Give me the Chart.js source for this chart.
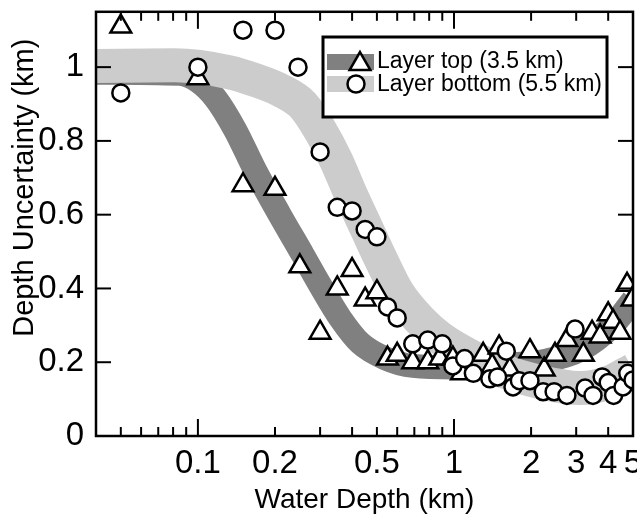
<!DOCTYPE html>
<html>
<head>
<meta charset="utf-8">
<script src="https://cdn.jsdelivr.net/npm/chart.js@4.4.0/dist/chart.umd.min.js"></script>
<style>
  html, body { margin: 0; padding: 0; background: #fff; overflow: hidden; }
  #wrap { width: 637px; height: 521px; overflow: hidden; position: relative; }
  #myChart { position: absolute; left: 0; top: -20px; }
</style>
</head>
<body>
<div id="wrap"><canvas id="myChart" width="657" height="541"></canvas></div>
<script>
// smoothed trends (band centre lines)
const topBandX = [0.04, 0.085, 0.1, 0.117, 0.14, 0.167, 0.209, 0.257, 0.3, 0.359, 0.43, 0.538, 0.692, 1, 1.51, 2.31, 3.11, 4.18, 5]
const topBandY = [0.985, 0.982, 0.962, 0.916, 0.829, 0.721, 0.599, 0.491, 0.409, 0.32, 0.252, 0.211, 0.19, 0.186, 0.192, 0.205, 0.233, 0.301, 0.369]
const bottomBandX = [0.04, 0.081, 0.133, 0.167, 0.209, 0.257, 0.3, 0.346, 0.393, 0.453, 0.524, 0.604, 0.737, 0.882, 1.155, 1.51, 2.17, 3.11, 4.06, 5]
const bottomBandY = [1.003, 1.005, 0.986, 0.965, 0.938, 0.897, 0.829, 0.748, 0.659, 0.566, 0.472, 0.388, 0.314, 0.266, 0.217, 0.179, 0.146, 0.13, 0.146, 0.179]

// Layer top (3.5 km) - triangles
const topX = [0.05, 0.1, 0.15, 0.2, 0.25, 0.3, 0.35, 0.4, 0.45, 0.5, 0.55, 0.6, 0.69, 0.79, 0.88, 0.99, 1.07, 1.3, 1.41, 1.5, 1.65, 1.98, 2.25, 2.48, 2.76, 3.2, 3.46, 3.72, 4.0, 4.18, 4.45, 4.74, 4.96]
const topY = [1.11, 0.97, 0.68, 0.67, 0.46, 0.28, 0.40, 0.45, 0.37, 0.39, 0.21, 0.22, 0.20, 0.20, 0.21, 0.21, 0.17, 0.22, 0.19, 0.24, 0.18, 0.23, 0.18, 0.22, 0.26, 0.22, 0.28, 0.27, 0.33, 0.31, 0.28, 0.41, 0.37]

// Layer bottom (5.5 km) - circles
const bottomX = [0.05, 0.1, 0.15, 0.2, 0.246, 0.3, 0.35, 0.4, 0.45, 0.5, 0.55, 0.6, 0.69, 0.79, 0.9, 0.99, 1.1, 1.19, 1.38, 1.48, 1.6, 1.7, 1.8, 1.98, 2.23, 2.46, 2.76, 2.97, 3.25, 3.49, 3.79, 4.0, 4.2, 4.57, 4.77, 5.0]
const bottomY = [0.93, 1.0, 1.10, 1.10, 1.0, 0.77, 0.62, 0.61, 0.56, 0.54, 0.35, 0.32, 0.25, 0.26, 0.25, 0.19, 0.21, 0.17, 0.155, 0.16, 0.23, 0.133, 0.15, 0.15, 0.12, 0.12, 0.11, 0.29, 0.13, 0.11, 0.16, 0.145, 0.11, 0.133, 0.17, 0.152]

const xTickLabels = [0.1, 0.2, 0.5, 1, 2, 3, 4, 5]
const xMajorTicks = [0.1, 1]
const xMinorTicks = [0.05, 0.06, 0.07, 0.08, 0.09, 0.2, 0.3, 0.4, 0.5, 0.6, 0.7, 0.8, 0.9, 2, 3, 4, 5]
const yTicks = [0, 0.2, 0.4, 0.6, 0.8, 1]
const yTickLabels = ["0", "0.2", "0.4", "0.6", "0.8", "1"]

const FONT = "'Liberation Sans', Arial, Helvetica, sans-serif"
const TICKFONT = "'Liberation Sans Narrow', 'Arial Narrow', 'Liberation Sans', sans-serif"
const SHIFT = 20   // canvas sits 20px above the page top

function xy(xs, ys) {
  return xs.map((v, i) => ({ x: v, y: ys[i] }))
}

function line(ctx, x1, y1, x2, y2) {
  ctx.beginPath()
  ctx.moveTo(x1, y1)
  ctx.lineTo(x2, y2)
  ctx.stroke()
}

// frame, inward ticks and the legend box
const frameLegend = {
  id: "frameLegend",
  afterDraw(chart) {
    const ctx = chart.ctx
    const a = chart.chartArea
    const x = chart.scales.x
    const y = chart.scales.y
    ctx.save()
    ctx.strokeStyle = "#000"
    ctx.lineWidth = 2
    xMinorTicks.forEach(v => {
      const px = x.getPixelForValue(v)
      line(ctx, px, a.bottom, px, a.bottom - 9)
      line(ctx, px, a.top, px, a.top + 9)
    })
    xMajorTicks.forEach(v => {
      const px = x.getPixelForValue(v)
      line(ctx, px, a.bottom, px, a.bottom - 17)
      line(ctx, px, a.top, px, a.top + 17)
    })
    yTicks.forEach(v => {
      const py = y.getPixelForValue(v)
      line(ctx, a.left, py, a.left + 15, py)
      line(ctx, a.right, py, a.right - 15, py)
    })
    ctx.lineWidth = 2.5
    ctx.strokeRect(a.left, a.top, a.right - a.left, a.bottom - a.top)

    // legend
    const oy = SHIFT
    ctx.fillStyle = "#fff"
    ctx.fillRect(323, 37 + oy, 284, 80)
    ctx.lineWidth = 3
    ctx.strokeRect(323, 37 + oy, 284, 80)
    ctx.fillStyle = "#808080"
    ctx.fillRect(327, 54 + oy, 47, 16)
    ctx.fillStyle = "#cccccc"
    ctx.fillRect(327, 76 + oy, 47, 16)
    ctx.lineWidth = 2.5
    ctx.fillStyle = "#fff"
    const r = 12, cx = 360, cy = 64 + oy
    ctx.beginPath()
    ctx.moveTo(cx, cy - r)
    ctx.lineTo(cx + r * Math.sin(2 * Math.PI / 3), cy - r * Math.cos(2 * Math.PI / 3))
    ctx.lineTo(cx + r * Math.sin(4 * Math.PI / 3), cy - r * Math.cos(4 * Math.PI / 3))
    ctx.closePath()
    ctx.fill(); ctx.stroke()
    ctx.beginPath()
    ctx.arc(356, 84 + oy, 8.5, 0, Math.PI * 2)
    ctx.fill(); ctx.stroke()
    ctx.fillStyle = "#000"
    ctx.font = "23px " + FONT
    ctx.textBaseline = "middle"
    ctx.textAlign = "left"
    ctx.fillText("Layer top (3.5 km)", 377, 62 + oy)
    ctx.fillText("Layer bottom (5.5 km)", 377, 85 + oy)
    ctx.restore()
  }
}

var chartField = document.querySelector("#myChart").getContext("2d")

var myChart = new Chart(chartField, {
  type: "scatter",
  data: {
    datasets: [
      {
        type: "line",
        label: "Layer top trend",
        data: xy(topBandX, topBandY),
        showLine: true,
        borderColor: "#808080",
        borderWidth: 24,
        borderCapStyle: "butt",
        pointRadius: 0,
        cubicInterpolationMode: "monotone",
        order: 4
      },
      {
        type: "line",
        label: "Layer bottom trend",
        data: xy(bottomBandX, bottomBandY),
        showLine: true,
        borderColor: "#cccccc",
        borderWidth: 34,
        borderCapStyle: "butt",
        pointRadius: 0,
        cubicInterpolationMode: "monotone",
        order: 3
      },
      {
        label: "Layer top (3.5 km)",
        data: xy(topX, topY),
        pointStyle: "triangle",
        pointRadius: 12,
        pointBorderWidth: 2.5,
        pointBackgroundColor: "#fff",
        pointBorderColor: "#000",
        order: 2
      },
      {
        label: "Layer bottom (5.5 km)",
        data: xy(bottomX, bottomY),
        pointStyle: "circle",
        pointRadius: 8.5,
        pointBorderWidth: 2.5,
        pointBackgroundColor: "#fff",
        pointBorderColor: "#000",
        order: 1
      }
    ]
  },
  options: {
    responsive: false,
    animation: false,
    layout: { padding: { top: 17, right: 14, left: 0, bottom: 0 } },
    plugins: { legend: { display: false }, tooltip: { enabled: false } },
    scales: {
      x: {
        type: "logarithmic",
        min: 0.04,
        max: 5,
        grid: { display: false, drawTicks: false },
        border: { display: false },
        afterBuildTicks: s => { s.ticks = xTickLabels.map(v => ({ value: v })) },
        ticks: {
          autoSkip: false,
          maxRotation: 0,
          color: "#000",
          padding: 8,
          font: { family: TICKFONT, size: 33 },
          callback: v => String(v)
        },
        title: {
          display: true,
          text: "Water Depth (km)",
          color: "#000",
          font: { family: FONT, size: 28 },
          padding: { top: 10 }
        },
        afterFit: s => { s.height = 85 }
      },
      y: {
        min: 0,
        max: 1.15,
        grid: { display: false, drawTicks: false },
        border: { display: false },
        afterBuildTicks: s => { s.ticks = yTicks.map(v => ({ value: v })) },
        ticks: {
          color: "#000",
          padding: 12,
          font: { family: TICKFONT, size: 33 },
          callback: (v, i) => yTickLabels[i]
        },
        title: {
          display: true,
          // leading spaces lift the title the way the original sits above centre
          text: "         Depth Uncertainty (km)",
          color: "#000",
          font: { family: FONT, size: 29 },
          padding: { top: 8, bottom: 0 }
        },
        afterFit: s => { s.width = 96 }
      }
    }
  },
  plugins: [frameLegend]
})

// nudge the layout padding until the plot frame lands where the original has it
for (let k = 0; k < 4; k++) {
  const a = myChart.chartArea
  const p = myChart.options.layout.padding
  p.top += (11 + SHIFT) - a.top
  p.right += a.right - 633
  myChart.update()
}
</script>
</body>
</html>
